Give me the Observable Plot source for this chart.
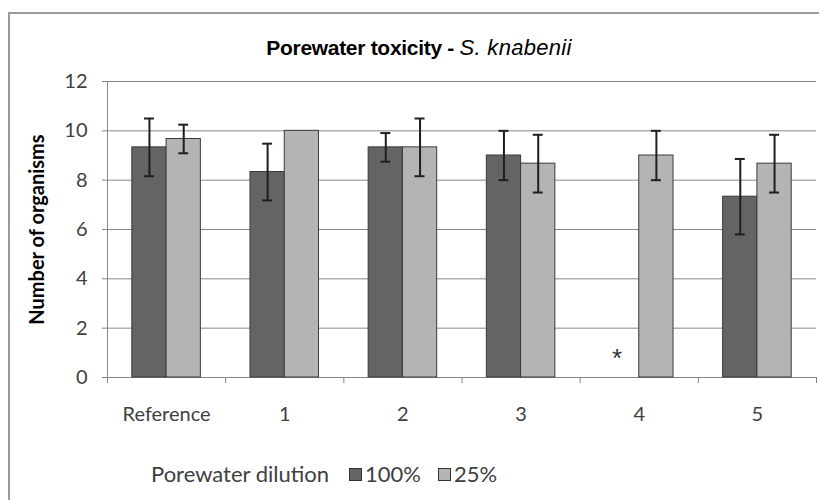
<!DOCTYPE html>
<html>
<head>
<meta charset="utf-8">
<script src="https://cdn.jsdelivr.net/npm/d3@7"></script>
<script src="https://cdn.jsdelivr.net/npm/@observablehq/plot@0.6"></script>
<style>
  html, body { margin: 0; padding: 0; background: #fff; overflow: hidden; }
  #wrap { position: relative; width: 819px; height: 500px; overflow: hidden; background: #fff; }
  #frame { position: absolute; left: 8px; top: 12px; width: 900px; height: 600px; border: 2px solid #9a9a9a; box-sizing: border-box; }
  #title { position: absolute; left: 0; top: 37px; width: 838px; text-align: center; font-family: "Liberation Sans", Arial, sans-serif; font-size: 21px; line-height: 21px; color: #000; }
  #title b { font-weight: bold; letter-spacing: -0.3px; }
  #title i { font-style: italic; font-weight: normal; font-size: 22px; letter-spacing: 0.3px; }
  #chart { position: absolute; left: 0; top: 0; }
  #legend { position: absolute; left: 151px; top: 461px; display: flex; align-items: center; font-family: Lato, sans-serif; font-size: 22px; color: #404040; line-height: 26px; }
  .sw { display: inline-block; width: 11px; height: 11px; border: 1px solid #333; margin-right: 3px; }
</style>
</head>
<body>
<div id="wrap">
  <div id="frame"></div>
  <div id="chart"></div>
  <div id="title"></div>
  <div id="legend"></div>
</div>
<script>
// ---- data ----
const categories = ["Reference", "1", "2", "3", "4", "5"];
const series = ["100%", "25%"];
const mean100 = [9.33, 8.33, 9.33, 9.0, null, 7.33];
const err100  = [1.17, 1.15, 0.58, 1.0, null, 1.53];
const mean25  = [9.67, 10.0, 9.33, 8.67, 9.0, 8.67];
const err25   = [0.58, 0, 1.17, 1.17, 1.0, 1.17];
const yTicks = [0, 2, 4, 6, 8, 10, 12];
const seriesColors = ["#646464", "#b4b4b4"];
const titleMain = "Porewater toxicity - ";
const titleSpecies = "S. knabenii";
const yLabel = "Number of organisms";
const legendTitle = "Porewater dilution";
const missingMark = "*";

// ---- layout of the clustered bars inside each category band ----
const groupStart = 0.21, barW = 0.29, capHalf = 0.042;

const rows = [];
categories.forEach((cat, i) => {
  series.forEach((s, j) => {
    const v = j === 0 ? mean100[i] : mean25[i];
    const e = j === 0 ? err100[i] : err25[i];
    if (v == null) return;
    const x1 = i + groupStart + j * barW;
    rows.push({cat, series: s, j, value: v, err: e, x1, x2: x1 + barW, xc: x1 + barW / 2, lo: v - e, hi: v + e});
  });
});
const errRows = rows.filter(d => d.err > 0);
const missing = [];
categories.forEach((cat, i) => { if (mean100[i] == null) missing.push({x: i + groupStart + barW * 0.35, y: 0.75}); });

const gridColor = "#868686";
const textColor = "#404040";

const chart = Plot.plot({
  width: 819,
  height: 420,
  marginLeft: 107,
  marginRight: 3,
  marginTop: 81,
  marginBottom: 43,
  style: {fontFamily: "Lato, sans-serif", fontSize: "20px", color: textColor, background: "transparent", overflow: "visible"},
  x: {domain: [0, categories.length], axis: null},
  y: {domain: [0, 12], axis: null},
  color: {domain: series, range: seriesColors},
  marks: [
    Plot.gridY(yTicks.filter(d => d > 0), {stroke: gridColor, strokeOpacity: 1, strokeWidth: 1}),
    Plot.axisY({ticks: yTicks, tickSize: 5, tickPadding: 15, stroke: gridColor, fill: textColor, label: null}),
    Plot.axisX({ticks: d3.range(categories.length + 1), tickSize: 6, tickFormat: () => "", stroke: gridColor, label: null}),
    Plot.axisX({ticks: categories.map((c, i) => i + 0.5), tickSize: 0, tickPadding: 29, tickFormat: d => categories[Math.floor(d)], fill: textColor, label: null}),
    Plot.ruleY([0], {stroke: gridColor, strokeWidth: 1}),
    Plot.ruleX([0], {y1: 0, y2: 12, stroke: gridColor, strokeWidth: 1}),
    Plot.rectY(rows, {x1: "x1", x2: "x2", y1: 0, y2: "value", fill: "series", stroke: "#3a3a3a", strokeWidth: 1}),
    Plot.ruleX(errRows, {x: "xc", y1: "lo", y2: "hi", stroke: "#1e1e1e", strokeWidth: 2}),
    Plot.ruleY(errRows, {y: "hi", x1: d => d.xc - capHalf, x2: d => d.xc + capHalf, stroke: "#1e1e1e", strokeWidth: 2}),
    Plot.ruleY(errRows, {y: "lo", x1: d => d.xc - capHalf, x2: d => d.xc + capHalf, stroke: "#1e1e1e", strokeWidth: 2}),
    Plot.text(missing, {x: "x", y: "y", text: () => missingMark, fill: "#333333", fontSize: 26, fontFamily: "Liberation Sans, Arial, sans-serif"}),
    Plot.text([yLabel], {frameAnchor: "left", textAnchor: "middle", rotate: -90, dx: -70, fontWeight: "bold", fill: "#000", fontSize: 20})
  ]
});
document.getElementById("chart").appendChild(chart);

const title = document.getElementById("title");
const b = document.createElement("b"); b.textContent = titleMain;
const it = document.createElement("i"); it.textContent = titleSpecies;
title.appendChild(b); title.appendChild(it);

const legend = document.getElementById("legend");
const lt = document.createElement("span"); lt.textContent = legendTitle; lt.style.marginRight = "20px";
legend.appendChild(lt);
series.forEach((s, j) => {
  const sw = document.createElement("span"); sw.className = "sw"; sw.style.background = seriesColors[j];
  const tx = document.createElement("span"); tx.textContent = s; tx.style.marginRight = "17px";
  legend.appendChild(sw); legend.appendChild(tx);
});
</script>
</body>
</html>
